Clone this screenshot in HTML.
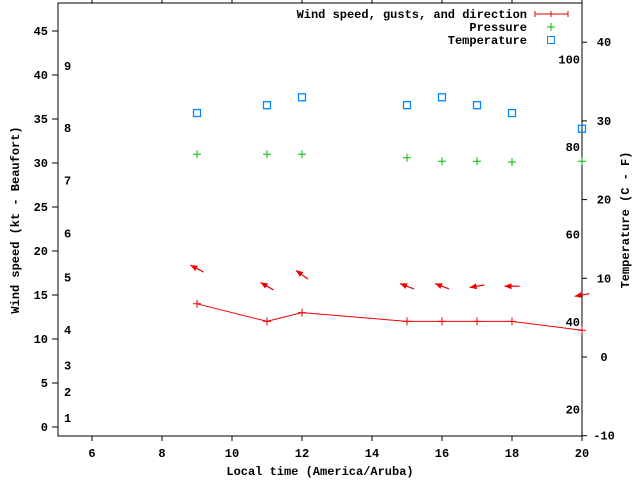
<!DOCTYPE html>
<html><head><meta charset="utf-8"><style>
body{margin:0;background:#fff}
svg text{font-family:"Liberation Mono",monospace;font-weight:bold;font-size:12px;fill:#000}
</style></head><body>
<svg width="640" height="480" viewBox="0 0 640 480" xmlns="http://www.w3.org/2000/svg">
<g id="axes"></g>
<g id="marks"></g>
</svg>
<script>
const times=[9,11,12,15,16,17,18,20];
const windSpeed=[14,12,13,12,12,12,12,11];
const gusts=[18,16,17.3,16,16,16,16,15];
const windDir=[118,120,126,111,111,80,90,80];
const pressure=[31,31,31,30.6,30.2,30.2,30.1,30.2];
const tempC=[31,32,33,32,33,32,31,29];
const xTicks=[6,8,10,12,14,16,18,20];
const yTicks=[0,5,10,15,20,25,30,35,40,45];
const tTicks=[-10,0,10,20,30,40];
const beaufort=[[1,1],[2,4],[3,7],[4,11],[5,17],[6,22],[7,28],[8,34],[9,41]];
const fLabels=[20,40,60,80,100];

const L=58,R=582,T=3,B=436;
const X=t=>57+(t-5)*35;
const Y=v=>427-8.8*v;
const YT=c=>357-7.87*c;
const YF=f=>YT((f-32)*5/9);
const NS="http://www.w3.org/2000/svg";
const ax=document.getElementById('axes'),mk=document.getElementById('marks');
function el(p,tag,a,txt){const e=document.createElementNS(NS,tag);for(const k in a)e.setAttribute(k,a[k]);if(txt!=null)e.textContent=txt;p.appendChild(e);return e;}

const frame=el(ax,'rect',{x:L,y:T,width:R-L,height:B-T,fill:'none',stroke:'#000','stroke-width':1});


xTicks.forEach(t=>{
  el(ax,'line',{x1:X(t),x2:X(t),y1:B,y2:B+5,stroke:'#000'});
  el(ax,'line',{x1:X(t),x2:X(t),y1:T,y2:T-5,stroke:'#000'});
  const tx=el(ax,'text',{x:X(t),y:457,'text-anchor':'middle'},t);
  
  
});
yTicks.forEach(v=>{
  el(ax,'line',{x1:L-6,x2:L,y1:Y(v),y2:Y(v),stroke:'#000'});
  const tx=el(ax,'text',{x:48,y:Y(v)+4,'text-anchor':'end'},v);
  
  
});
tTicks.forEach(c=>{
  el(ax,'line',{x1:R,x2:R+5,y1:YT(c),y2:YT(c),stroke:'#000'});
  const tx=el(ax,'text',{x:604,y:YT(c)+4,'text-anchor':'middle'},c);
  
  
});
beaufort.forEach(b=>{
  const tx=el(ax,'text',{x:64,y:Y(b[1])+4},b[0]);
  
  
});
fLabels.forEach(f=>{
  const tx=el(ax,'text',{x:580,y:YF(f)+4,'text-anchor':'end'},f);
  
  
});
let t1=el(ax,'text',{x:320,y:475,'text-anchor':'middle'},'Local time (America/Aruba)');


let t2=el(ax,'text',{x:19,y:220,'text-anchor':'middle',transform:'rotate(-90 19 220)'},'Wind speed (kt - Beaufort)');


let t3=el(ax,'text',{x:629,y:220,'text-anchor':'middle',transform:'rotate(-90 629 220)'},'Temperature (C - F)');



// legend
const leg=[['Wind speed, gusts, and direction',14],['Pressure',27],['Temperature',40]];
leg.forEach(l=>{
  const tx=el(ax,'text',{x:527,y:l[1]+4,'text-anchor':'end'},l[0]);
  
  
});
el(ax,'path',{d:'M535,14H568M535,11V17M568,11V17M551,11V17',stroke:'#e00',fill:'none'});
el(ax,'path',{d:'M547,27H555M551,23V31',stroke:'#0b0',fill:'none'});
el(ax,'rect',{x:547.5,y:36.5,width:7,height:7,stroke:'#08f',fill:'none'});

// wind line
let d='';times.forEach((t,i)=>{d+=(i?'L':'M')+X(t)+','+Y(windSpeed[i]);});
const wl=el(mk,'path',{d:d,stroke:'#e00',fill:'none'});


times.forEach((t,i)=>{
  const p=el(mk,'path',{d:`M${X(t)-4},${Y(windSpeed[i])}h8M${X(t)},${Y(windSpeed[i])-4}v8`,stroke:'#e00'});
  
  
  // arrow
  const a=windDir[i]*Math.PI/180;
  const dx=-Math.sin(a),dy=Math.cos(a); // screen direction toward head
  const cx=X(t),cy=Y(gusts[i]),h=7.5;
  const hx=cx+dx*h,hy=cy+dy*h,tx=cx-dx*h,ty=cy-dy*h;
  const px=-dy,py=dx;
  const g=el(mk,'g',{});
  
  
  el(g,'line',{x1:tx,y1:ty,x2:hx,y2:hy,stroke:'#e00','stroke-width':1.2});
  el(g,'path',{d:`M${hx},${hy}L${hx-dx*7+px*3},${hy-dy*7+py*3}L${hx-dx*7-px*3},${hy-dy*7-py*3}Z`,fill:'#e00'});
  // pressure
  const pp=el(mk,'path',{d:`M${X(t)-4},${Y(pressure[i])}h8M${X(t)},${Y(pressure[i])-4}v8`,stroke:'#0b0'});
  
  
  const sq=el(mk,'rect',{x:X(t)-3.5,y:YT(tempC[i])-3.5,width:7,height:7,stroke:'#08f',fill:'none','stroke-width':1.3});
  
  
});
</script>
</body></html>
